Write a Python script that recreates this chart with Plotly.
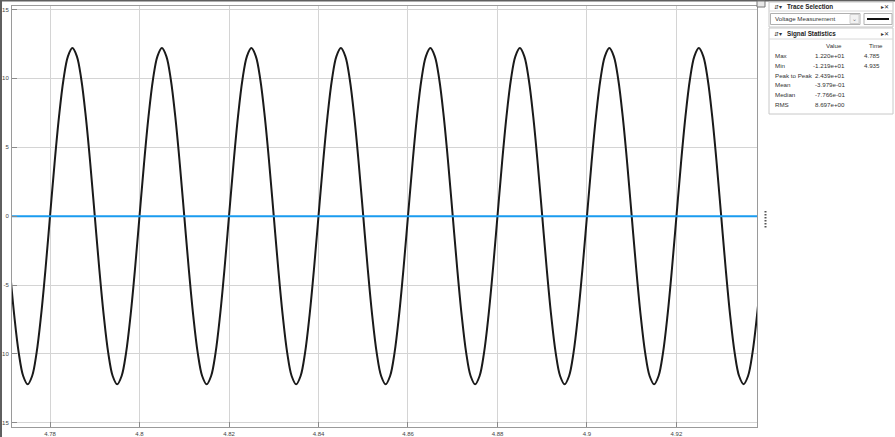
import plotly.graph_objects as go

# ---- data ----
t_start = 4.771
t_step = 0.001
voltage = [
    -3.8, -7.2, -9.9, -11.6, -12.2, -11.6, -9.9, -7.2, -3.8, 0.0, 3.8, 7.2, 9.9, 11.6, 12.2, 11.6, 9.9, 7.2, 3.8, 0.0,
    -3.8, -7.2, -9.9, -11.6, -12.2, -11.6, -9.9, -7.2, -3.8, 0.0, 3.8, 7.2, 9.9, 11.6, 12.2, 11.6, 9.9, 7.2, 3.8, 0.0,
    -3.8, -7.2, -9.9, -11.6, -12.2, -11.6, -9.9, -7.2, -3.8, 0.0, 3.8, 7.2, 9.9, 11.6, 12.2, 11.6, 9.9, 7.2, 3.8, 0.0,
    -3.8, -7.2, -9.9, -11.6, -12.2, -11.6, -9.9, -7.2, -3.8, 0.0, 3.8, 7.2, 9.9, 11.6, 12.2, 11.6, 9.9, 7.2, 3.8, 0.0,
    -3.8, -7.2, -9.9, -11.6, -12.2, -11.6, -9.9, -7.2, -3.8, 0.0, 3.8, 7.2, 9.9, 11.6, 12.2, 11.6, 9.9, 7.2, 3.8, 0.0,
    -3.8, -7.2, -9.9, -11.6, -12.2, -11.6, -9.9, -7.2, -3.8, 0.0, 3.8, 7.2, 9.9, 11.6, 12.2, 11.6, 9.9, 7.2, 3.8, 0.0,
    -3.8, -7.2, -9.9, -11.6, -12.2, -11.6, -9.9, -7.2, -3.8, 0.0, 3.8, 7.2, 9.9, 11.6, 12.2, 11.6, 9.9, 7.2, 3.8, 0.0,
    -3.8, -7.2, -9.9, -11.6, -12.2, -11.6, -9.9, -7.2, -3.8, 0.0, 3.8, 7.2, 9.9, 11.6, 12.2, 11.6, 9.9, 7.2, 3.8, 0.0,
    -3.8, -7.2, -9.9, -11.6, -12.19, -11.6, -9.9, -7.2, -3.8,
]
ref_t = [4.771, 4.939]
ref_v = [0, 0]

x_tickvals = [4.78, 4.80, 4.82, 4.84, 4.86, 4.88, 4.90, 4.92]
x_ticktext = ["4.78", "4.8", "4.82", "4.84", "4.86", "4.88", "4.9", "4.92"]
y_tickvals = [15, 10, 5, 0, -5, -10, -15]
y_ticktext = ["15", "10", "5", "0", "-5", "-10", "-15"]

stat_names = ["Max", "Min", "Peak to Peak", "Mean", "Median", "RMS"]
stat_values = ["1.220e+01", "-1.219e+01", "2.439e+01", "-3.979e-01", "-7.766e-01", "8.697e+00"]
stat_times = ["4.785", "4.935", "", "", "", ""]

# ---- figure ----
W, H = 895, 437
L, R, T, B = 12, 138, 6, 10
PW, PH = W - L - R, H - T - B


def px(x):
    return (x - L) / PW


def py(y):
    return (H - B - y) / PH


fig = go.Figure()
fig.add_trace(go.Scatter(x0=t_start, dx=t_step, y=voltage, mode="lines",
                         line=dict(color="#1a1a1a", width=2, shape="spline", smoothing=1),
                         hoverinfo="skip", showlegend=False))
fig.add_trace(go.Scatter(x=ref_t, y=ref_v, mode="lines",
                         line=dict(color="#1a9cf0", width=2),
                         hoverinfo="skip", showlegend=False))

shapes = []
annos = []
FONT = "Liberation Sans, Arial, sans-serif"
TS = 6.2


def rect(x0, y0, x1, y1, fill=None, line="#c0c0c0", lw=1):
    shapes.append(dict(type="rect", xref="paper", yref="paper",
                       x0=px(x0), x1=px(x1), y0=py(y1), y1=py(y0),
                       fillcolor=fill if fill else "rgba(0,0,0,0)",
                       line=dict(color=line, width=lw), layer="above"))


def hline(x0, x1, y, color="#c0c0c0", lw=1):
    shapes.append(dict(type="line", xref="paper", yref="paper",
                       x0=px(x0), x1=px(x1), y0=py(y), y1=py(y),
                       line=dict(color=color, width=lw), layer="above"))


def text(x, y, s, size=TS, color="#333333", anchor="left", bold=False):
    if bold:
        s = "<b>" + s + "</b>"
    annos.append(dict(xref="paper", yref="paper", x=px(x), y=py(y), text=s,
                      showarrow=False, xanchor=anchor, yanchor="middle",
                      font=dict(size=size, color=color, family=FONT)))


# window frame
rect(0, 0, 2, H, fill="#5f5f5f", line="#5f5f5f", lw=0)
rect(0, 0, W, 1.5, fill="#5f5f5f", line="#5f5f5f", lw=0)
# small icon at top-right of plot
rect(757, 1, 765, 7, fill="#e8e8e8", line="#777777", lw=1)
# resize handle dots
for i in range(6):
    rect(764.5, 211 + i * 3, 766.5, 212.5 + i * 3, fill="#555555", line="#555555", lw=0)

# Trace Selection panel
rect(769, 2, 893, 27, fill="white", line="#c8c8c8")
hline(769, 893, 11, color="#d8d8d8")
text(772, 6.5, "⇵▾", size=5.5, color="#333333")
text(785, 6.5, "Trace Selection", size=6.3, color="#222222", bold=True)
text(891, 6.5, "▸✕", size=5.5, color="#333333", anchor="right")
rect(770.5, 13.5, 860, 24.5, fill="white", line="#b0b0b0")
text(773, 19, "Voltage Measurement", color="#333333")
rect(850, 14.5, 859, 23.5, fill="#f2f2f2", line="#d0d0d0")
text(854.5, 19, "⌄", size=6, color="#777777", anchor="center")
rect(864, 13.5, 892, 24.5, fill="white", line="#b0b0b0")
hline(867, 889, 19, color="#111111", lw=2)

# Signal Statistics panel
rect(769, 28, 893, 114, fill="white", line="#c8c8c8")
hline(769, 893, 39, color="#d8d8d8")
text(772, 33.5, "⇵▾", size=5.5, color="#333333")
text(785, 33.5, "Signal Statistics", size=6.3, color="#222222", bold=True)
text(891, 33.5, "▸✕", size=5.5, color="#333333", anchor="right")
text(834, 45.5, "Value", color="#333333", anchor="center")
text(876, 45.5, "Time", color="#333333", anchor="center")
row_y = [55.5, 65, 75, 85, 94.5, 104]
for name, val, tm, yy in zip(stat_names, stat_values, stat_times, row_y):
    text(773, yy, name, color="#333333")
    text(847, yy, val, color="#333333", anchor="right")
    if tm:
        text(882, yy, tm, color="#333333", anchor="right")

axis_common = dict(showgrid=True, gridcolor="#d4d4d4", gridwidth=1,
                   zeroline=False, showline=True, linecolor="#9a9a9a", linewidth=1,
                   mirror=True, ticks="inside", ticklen=5, tickcolor="#8a8a8a",
                   automargin=False,
                   tickfont=dict(size=6, color="#444444", family=FONT))

fig.update_layout(
    width=W, height=H,
    margin=dict(l=L, r=R, t=T, b=B, pad=0, autoexpand=False),
    paper_bgcolor="white", plot_bgcolor="white",
    xaxis=dict(range=[4.7715, 4.938], tickvals=x_tickvals, ticktext=x_ticktext,
               ticklabelstandoff=1, **axis_common),
    yaxis=dict(range=[-15.3, 15.25], tickvals=y_tickvals, ticktext=y_ticktext,
               ticklabelstandoff=1, **axis_common),
    shapes=shapes, annotations=annos,
)

fig.write_html("out.html")
